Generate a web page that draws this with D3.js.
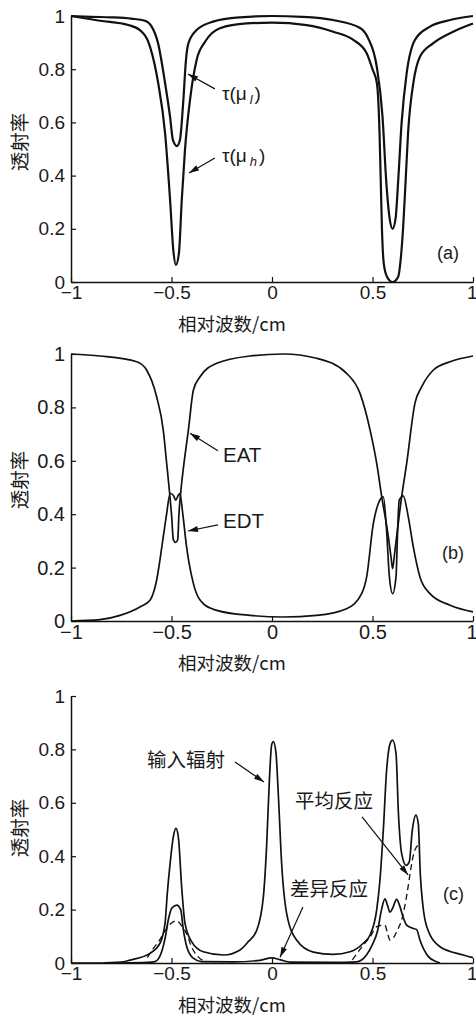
<!DOCTYPE html>
<html>
<head>
<meta charset="utf-8">
<script src="https://cdn.jsdelivr.net/npm/d3@7"></script>
<style>
  body { margin: 0; background: #fff; }
  svg text { font-family: "Liberation Sans", Arial, sans-serif; fill: #1a1a1a; }
  svg text.cjk { font-family: "Noto Sans CJK SC", sans-serif; }
</style>
</head>
<body>
<svg id="chart" width="476" height="1018"></svg>
<script>
// axis ticks and titles
const xTicks = [-1, -0.5, 0, 0.5, 1];
const yTicks = [0, 0.2, 0.4, 0.6, 0.8, 1];
const xTitle = "相对波数/cm";
const yTitle = "透射率";

// (a) transmittance at two absorber amounts, [wavenumber, transmittance]
const tauLow = [[-1,1.0],[-0.9,0.997],[-0.8,0.995],[-0.7,0.99],[-0.632,0.982],[-0.6,0.962],[-0.567,0.898],
  [-0.532,0.748],[-0.507,0.62],[-0.493,0.534],[-0.473,0.511],[-0.458,0.534],[-0.441,0.684],[-0.428,0.835],
  [-0.416,0.897],[-0.375,0.947],[-0.293,0.979],[-0.159,0.995],[0,1.0],[0.15,0.997],[0.304,0.985],[0.438,0.955],
  [0.478,0.917],[0.521,0.81],[0.55,0.62],[0.568,0.383],[0.585,0.24],[0.6,0.2],[0.615,0.24],[0.628,0.383],
  [0.645,0.6],[0.67,0.785],[0.711,0.91],[0.786,0.96],[0.886,0.985],[1,1.0]];
const tauHigh = [[-1,1.0],[-0.856,0.982],[-0.715,0.966],[-0.657,0.947],[-0.607,0.885],[-0.566,0.747],
  [-0.532,0.56],[-0.507,0.308],[-0.491,0.12],[-0.478,0.064],[-0.463,0.109],[-0.449,0.308],[-0.433,0.496],
  [-0.408,0.684],[-0.375,0.835],[-0.333,0.903],[-0.259,0.954],[-0.126,0.972],[0,0.975],[0.172,0.966],
  [0.305,0.941],[0.405,0.91],[0.471,0.86],[0.5,0.8],[0.522,0.747],[0.535,0.56],[0.541,0.383],[0.547,0.2],
  [0.556,0.07],[0.572,0.02],[0.6,0.0],[0.628,0.02],[0.64,0.083],[0.652,0.2],[0.665,0.383],[0.677,0.56],
  [0.703,0.747],[0.736,0.847],[0.801,0.897],[0.901,0.941],[1,0.972]];

// (b) equivalent average / difference transmittance
const eat = [[-1,1.0],[-0.856,0.9925],[-0.673,0.971],[-0.624,0.94],[-0.574,0.84],[-0.541,0.715],[-0.524,0.59],
  [-0.512,0.5],[-0.499,0.39],[-0.491,0.305],[-0.479,0.294],[-0.469,0.305],[-0.463,0.4],[-0.453,0.49],
  [-0.438,0.59],[-0.416,0.715],[-0.391,0.865],[-0.358,0.915],[-0.275,0.965],[-0.109,0.9925],[0.056,1.0],
  [0.222,0.984],[0.371,0.9275],[0.438,0.8525],[0.488,0.715],[0.521,0.59],[0.546,0.465],[0.579,0.315],
  [0.592,0.24],[0.6,0.196],[0.608,0.24],[0.62,0.315],[0.645,0.465],[0.67,0.59],[0.711,0.815],[0.745,0.8775],
  [0.803,0.94],[0.886,0.971],[1,0.9925]];
const edt = [[-1,0],[-0.856,0.005],[-0.756,0.021],[-0.657,0.0525],[-0.607,0.0775],[-0.574,0.1525],
  [-0.541,0.315],[-0.524,0.4025],[-0.507,0.4775],[-0.491,0.471],[-0.479,0.4525],[-0.466,0.471],[-0.458,0.4775],
  [-0.444,0.4025],[-0.425,0.2775],[-0.391,0.14],[-0.342,0.065],[-0.275,0.04],[-0.109,0.021],[0.056,0.015],
  [0.222,0.021],[0.371,0.046],[0.446,0.1025],[0.471,0.165],[0.504,0.365],[0.529,0.44],[0.554,0.465],
  [0.57,0.34],[0.584,0.165],[0.6,0.1025],[0.617,0.165],[0.625,0.34],[0.633,0.4525],[0.653,0.469],[0.678,0.39],
  [0.703,0.2775],[0.736,0.165],[0.786,0.1025],[0.886,0.059],[1,0.034]];

// (c) input radiation, difference response, average response
const inputRad = [[-1,0],[-0.85,0.0],[-0.75,0.003],[-0.706,0.011],[-0.607,0.036],[-0.557,0.074],[-0.532,0.149],
  [-0.521,0.26],[-0.507,0.3725],[-0.491,0.4725],[-0.478,0.504],[-0.466,0.4725],[-0.449,0.28],[-0.433,0.149],
  [-0.4,0.08],[-0.342,0.042],[-0.242,0.03],[-0.159,0.049],[-0.118,0.08],[-0.076,0.1225],[-0.043,0.2475],
  [-0.027,0.435],[-0.013,0.685],[-0.002,0.816],[0.007,0.829],[0.02,0.785],[0.032,0.6225],[0.048,0.3725],
  [0.073,0.185],[0.123,0.085],[0.206,0.041],[0.305,0.0325],[0.388,0.042],[0.454,0.074],[0.488,0.105],
  [0.521,0.2],[0.537,0.31],[0.554,0.5],[0.57,0.72],[0.587,0.82],[0.6,0.835],[0.617,0.785],[0.629,0.56],
  [0.645,0.41],[0.667,0.366],[0.683,0.379],[0.698,0.4975],[0.716,0.554],[0.728,0.52],[0.738,0.33],
  [0.75,0.22],[0.77,0.136],[0.836,0.061],[0.952,0.03],[1,0.02]];
const diffResp = [[-0.75,0],[-0.62,0.002],[-0.582,0.005],[-0.549,0.042],[-0.532,0.092],[-0.516,0.161],
  [-0.499,0.205],[-0.474,0.217],[-0.454,0.199],[-0.441,0.124],[-0.424,0.061],[-0.392,0.018],[-0.35,0.005],
  [-0.192,0.004],[-0.06,0.01],[-0.002,0.019],[0.04,0.0125],[0.09,0.003],[0.3,0.002],[0.42,0.004],
  [0.47,0.03],[0.5,0.07],[0.525,0.12],[0.545,0.2],[0.562,0.24],[0.575,0.215],[0.587,0.19],[0.6,0.205],
  [0.62,0.238],[0.635,0.215],[0.653,0.17],[0.67,0.142],[0.7,0.13],[0.72,0.125],[0.736,0.086],[0.778,0.024],
  [0.819,0.005],[0.836,0]];
const avgRespLeft = [[-0.62,0.02],[-0.59,0.055],[-0.56,0.085],[-0.532,0.12],[-0.5,0.15],[-0.474,0.158],
  [-0.45,0.14],[-0.425,0.11],[-0.4,0.06],[-0.37,0.025],[-0.34,0.008]];
const avgRespRight = [[0.4,0.012],[0.454,0.067],[0.49,0.1],[0.521,0.136],[0.562,0.142],[0.575,0.11],
  [0.587,0.086],[0.605,0.095],[0.625,0.125],[0.645,0.161],[0.665,0.23],[0.678,0.29],[0.69,0.35],
  [0.705,0.41],[0.725,0.44]];

const panels = [
  {
    top: 16, bottom: 282, font: 19, yTitleY: 142, tag: "(a)", tagAt: [0.821, 0.086],
    series: [{ data: tauLow, width: 2.2 }, { data: tauHigh, width: 2.2 }],
    notes: [
      { text: "τ(μ", sub: "l", at: [-0.249, 0.684], from: [-0.284, 0.726], to: [-0.418, 0.782] },
      { text: "τ(μ", sub: "h", at: [-0.249, 0.451], from: [-0.284, 0.466], to: [-0.413, 0.41] }
    ]
  },
  {
    top: 354, bottom: 621, font: 20, yTitleY: 480, tag: "(b)", tagAt: [0.846, 0.232],
    series: [{ data: eat, width: 1.7 }, { data: edt, width: 1.7 }],
    notes: [
      { text: "EAT", at: [-0.244, 0.597], from: [-0.269, 0.638], to: [-0.408, 0.703], size: 20.5 },
      { text: "EDT", at: [-0.244, 0.348], from: [-0.269, 0.36], to: [-0.418, 0.337], size: 20.5 }
    ]
  },
  {
    top: 696, bottom: 963, font: 19, yTitleY: 828, tag: "(c)", tagAt: [0.851, 0.236],
    series: [
      { data: inputRad, width: 1.7 }, { data: diffResp, width: 1.7 },
      { data: avgRespLeft, width: 1.3, dash: "6,4" }, { data: avgRespRight, width: 1.3, dash: "6,4" }
    ],
    notes: [
      { text: "输入辐射", cjk: true, at: [-0.622, 0.734], from: [-0.184, 0.753], to: [-0.04, 0.678] },
      { text: "平均反应", cjk: true, at: [0.114, 0.58], from: [0.448, 0.547], to: [0.677, 0.33] },
      { text: "差异反应", cjk: true, at: [0.09, 0.251], from: [0.154, 0.21], to: [0.04, 0.022] }
    ]
  }
];

const svg = d3.select("#chart");

svg.append("defs").append("marker")
  .attr("id", "arrow")
  .attr("viewBox", "0 0 10 6")
  .attr("refX", 10).attr("refY", 3)
  .attr("markerWidth", 11).attr("markerHeight", 6)
  .attr("markerUnits", "userSpaceOnUse")
  .attr("orient", "auto")
  .append("path").attr("d", "M0,0L10,3L0,6Z").attr("fill", "#111");

const fmt = d3.format("~g");

panels.forEach(p => {
  const x = d3.scaleLinear().domain([-1, 1]).range([71, 473]);
  const y = d3.scaleLinear().domain([0, 1]).range([p.bottom, p.top]);
  const g = svg.append("g");

  // axes with inward ticks
  const xAxis = g.append("g")
    .attr("transform", `translate(0,${p.bottom})`)
    .call(d3.axisBottom(x).tickValues(xTicks).tickFormat(fmt).tickSize(-5).tickSizeOuter(0).tickPadding(4));
  const yAxis = g.append("g")
    .attr("transform", "translate(71,0)")
    .call(d3.axisLeft(y).tickValues(yTicks).tickFormat(fmt).tickSize(-5).tickSizeOuter(0).tickPadding(6));

  [xAxis, yAxis].forEach(a => {
    a.select(".domain").attr("stroke", "#111").attr("stroke-width", 1.5);
    a.selectAll(".tick line").attr("stroke", "#111").attr("stroke-width", 1.2);
    a.selectAll(".tick text")
      .attr("fill", "#1a1a1a")
      .style("font-family", '"Liberation Sans", Arial, sans-serif')
      .style("font-size", p.font + "px");
  });
  // keep the last x label inside the picture
  xAxis.selectAll(".tick text").filter(d => d === 1)
    .attr("text-anchor", "end").attr("dx", 4);

  // axis titles
  g.append("text").attr("class", "cjk")
    .attr("x", 232).attr("y", p.bottom + 49)
    .attr("text-anchor", "middle")
    .style("font-size", "18.5px")
    .text(xTitle);
  g.append("text").attr("class", "cjk")
    .attr("transform", `translate(20,${p.yTitleY}) rotate(-90)`)
    .attr("text-anchor", "middle").attr("dy", "0.35em")
    .style("font-size", "19.5px")
    .text(yTitle);

  // curves
  const line = d3.line()
    .x(d => x(d[0]))
    .y(d => y(d[1]))
    .curve(d3.curveMonotoneX);

  p.series.forEach(s => {
    g.append("path")
      .datum(s.data)
      .attr("fill", "none")
      .attr("stroke", "#111")
      .attr("stroke-width", s.width)
      .attr("stroke-linejoin", "round")
      .attr("stroke-dasharray", s.dash || null)
      .attr("d", line);
  });

  // annotations
  p.notes.forEach(n => {
    g.append("line")
      .attr("x1", x(n.from[0])).attr("y1", y(n.from[1]))
      .attr("x2", x(n.to[0])).attr("y2", y(n.to[1]))
      .attr("stroke", "#111").attr("stroke-width", 1.2)
      .attr("marker-end", "url(#arrow)");
    const t = g.append("text")
      .attr("x", x(n.at[0])).attr("y", y(n.at[1]))
      .style("font-size", (n.size || (n.cjk ? 19.5 : 19)) + "px");
    if (n.cjk) t.attr("class", "cjk");
    t.append("tspan").text(n.text);
    if (n.sub) {
      t.append("tspan").attr("dx", 3).attr("dy", 4)
        .style("font-size", "13px").style("font-style", "italic").text(n.sub);
      t.append("tspan").attr("dx", 2).attr("dy", -4).text(")");
    }
  });

  g.append("text")
    .attr("x", x(p.tagAt[0])).attr("y", y(p.tagAt[1]))
    .style("font-size", "18px")
    .text(p.tag);
});
</script>
</body>
</html>
